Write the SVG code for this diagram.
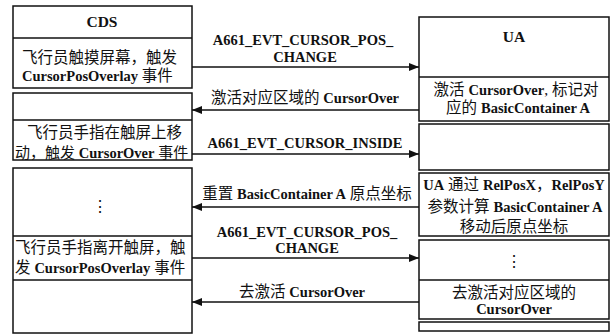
<svg xmlns="http://www.w3.org/2000/svg" width="613" height="336" viewBox="0 0 613 336">
<style>
.box{fill:#fff;stroke:#111;stroke-width:1.5}
.div{stroke:#111;stroke-width:1.5}
.t{font-family:"Liberation Serif","Noto Sans CJK SC",serif;font-size:15.5px;fill:#111}
.b{font-weight:bold;font-size:14.5px}
.h{font-weight:bold;font-size:15.5px}
.c{text-anchor:middle}
.con{stroke:#111;stroke-width:1.5;fill:none}
</style>
<defs>
<marker id="ah" viewBox="0 0 10 8" refX="10" refY="4" markerWidth="10" markerHeight="8" markerUnits="userSpaceOnUse" orient="auto">
<path d="M0,0 L10,4 L0,8 Z" fill="#111"/>
</marker>
</defs>
<rect width="613" height="336" fill="#fff"/>

<g id="cds-1">
<rect class="box" x="13" y="6" width="179" height="82"/>
<line class="div" x1="13" y1="38" x2="192" y2="38"/>
<text class="t c h" x="102" y="27">CDS</text>
<text class="t" x="22" y="63">飞行员触摸屏幕，触发</text>
<text class="t" x="22" y="81"><tspan class="b">CursorPosOverlay</tspan> 事件</text>
</g>

<g id="cds-2">
<rect class="box" x="13" y="93" width="179" height="67"/>
<line class="div" x1="13" y1="120" x2="192" y2="120"/>
<text class="t" x="27" y="138">飞行员手指在触屏上移</text>
<text class="t" x="15" y="158" style="font-size:15px">动，触发 <tspan class="b">CursorOver</tspan> 事件</text>
</g>

<g id="cds-3">
<rect class="box" x="13" y="168" width="179" height="165"/>
<line class="div" x1="13" y1="236" x2="192" y2="236"/>
<line class="div" x1="13" y1="280" x2="192" y2="280"/>
<text class="t c" x="100" y="212">⋮</text>
<text class="t" x="15" y="253">飞行员手指离开触屏，触</text>
<text class="t" x="15" y="273">发 <tspan class="b">CursorPosOverlay</tspan> 事件</text>
</g>

<g id="ua-1">
<rect class="box" x="419" y="17" width="190" height="104"/>
<line class="div" x1="419" y1="77" x2="609" y2="77"/>
<text class="t c h" x="514" y="42">UA</text>
<text class="t c" x="516" y="95">激活 <tspan class="b">CursorOver</tspan>, 标记对</text>
<text class="t c" x="518" y="113">应的 <tspan class="b">BasicContainer A</tspan></text>
</g>

<g id="ua-2">
<rect class="box" x="419" y="124" width="190" height="46"/>
</g>

<g id="ua-3">
<rect class="box" x="419" y="173" width="190" height="63"/>
<text class="t c" x="514" y="190"><tspan class="b">UA</tspan> 通过 <tspan class="b">RelPosX</tspan>，<tspan class="b">RelPosY</tspan></text>
<text class="t c" x="515" y="212">参数计算 <tspan class="b">BasicContainer A</tspan></text>
<text class="t c" x="514" y="232">移动后原点坐标</text>
</g>

<g id="ua-4">
<rect class="box" x="419" y="240" width="190" height="79"/>
<line class="div" x1="419" y1="280" x2="609" y2="280"/>
<text class="t c" x="514" y="267">⋮</text>
<text class="t c" x="514" y="298">去激活对应区域的</text>
<text class="t c b" x="514" y="314">CursorOver</text>
</g>

<g id="ua-5">
<rect class="box" x="419" y="322" width="190" height="9"/>
</g>

<g id="connectors">
<line class="con" x1="192" y1="67" x2="419" y2="67" marker-end="url(#ah)"/>
<line class="con" x1="419" y1="110" x2="192" y2="110" marker-end="url(#ah)"/>
<line class="con" x1="192" y1="154" x2="419" y2="154" marker-end="url(#ah)"/>
<line class="con" x1="419" y1="207" x2="192" y2="207" marker-end="url(#ah)"/>
<line class="con" x1="192" y1="258" x2="419" y2="258" marker-end="url(#ah)"/>
<line class="con" x1="419" y1="302" x2="192" y2="302" marker-end="url(#ah)"/>
<text class="t c b" x="303" y="45">A661_EVT_CURSOR_POS_</text>
<text class="t c b" x="305" y="62">CHANGE</text>
<text class="t c" x="305" y="103">激活对应区域的 <tspan class="b">CursorOver</tspan></text>
<text class="t c b" x="305" y="148">A661_EVT_CURSOR_INSIDE</text>
<text class="t c" x="307" y="199">重置 <tspan class="b">BasicContainer A</tspan> 原点坐标</text>
<text class="t c b" x="307" y="237">A661_EVT_CURSOR_POS_</text>
<text class="t c b" x="307" y="253">CHANGE</text>
<text class="t c" x="302" y="297">去激活 <tspan class="b">CursorOver</tspan></text>
</g>
</svg>
